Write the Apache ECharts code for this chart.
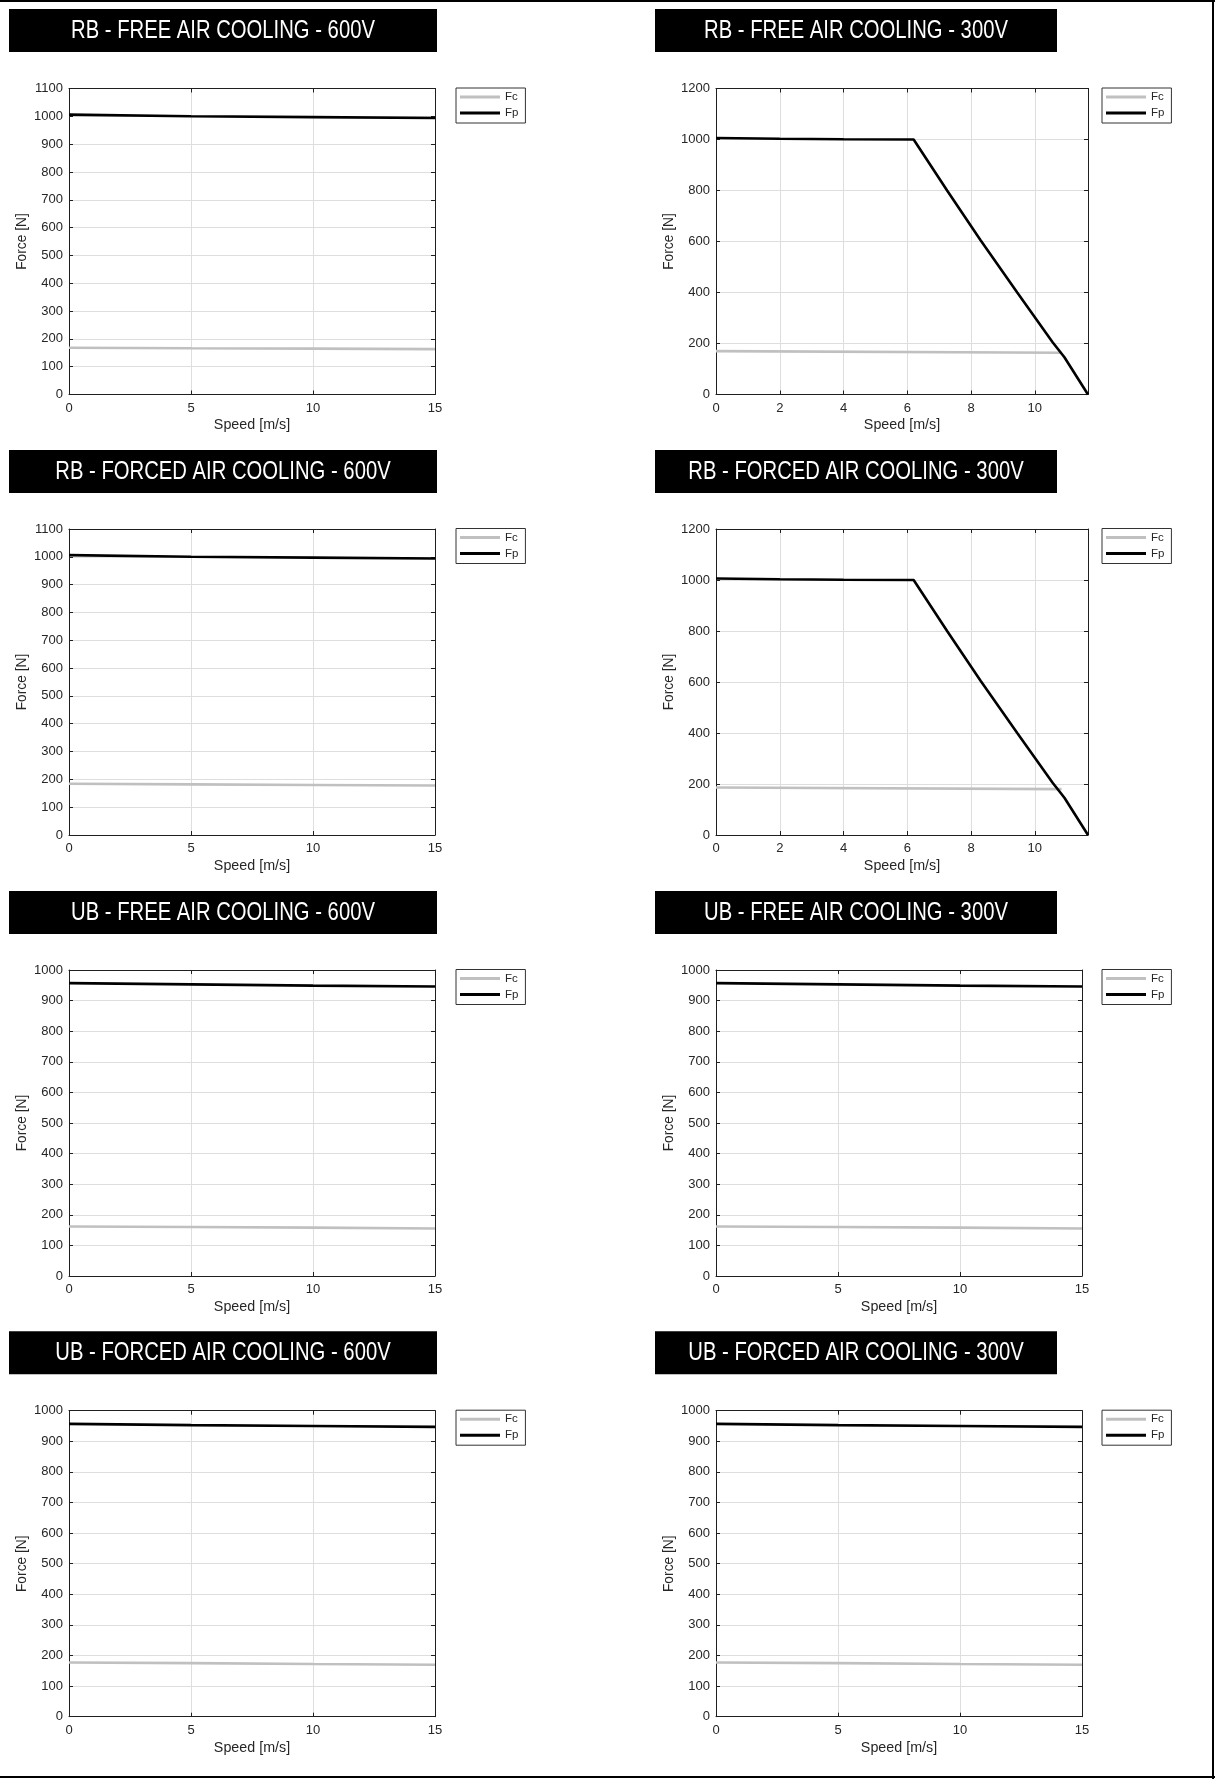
<!DOCTYPE html>
<html><head><meta charset="utf-8">
<script src="https://cdn.jsdelivr.net/npm/echarts@6/dist/echarts.min.js"></script>
<style>html,body{margin:0;padding:0;background:#fff}#c{width:1215px;height:1779px}</style>
</head><body><div id="c"></div>
<script>
// ---- data ----
const titles = [
  'RB - FREE AIR COOLING - 600V', 'RB - FREE AIR COOLING - 300V',
  'RB - FORCED AIR COOLING - 600V', 'RB - FORCED AIR COOLING - 300V',
  'UB - FREE AIR COOLING - 600V', 'UB - FREE AIR COOLING - 300V',
  'UB - FORCED AIR COOLING - 600V', 'UB - FORCED AIR COOLING - 300V'
];
const seriesNames = ['Fc', 'Fp'];
const xAxisName = 'Speed [m/s]';
const yAxisName = 'Force [N]';

const speed15 = [0, 5, 10, 15];
const rbFree600Fp = [1006, 1000, 997, 994];
const rbFree600Fc = [168, 166, 165, 163];
const rbForced600Fp = [1006, 1000, 997, 994];
const rbForced600Fc = [184, 182, 180, 178];

const speed300Fp = [0, 2, 4, 6.2, 7.25, 8.3, 9.45, 10.56, 10.93, 11.67];
const rbFree300Fp = [1006, 1003, 1001, 1000, 800, 605, 400, 205, 146, 0];
const speed300Fc = [0, 10.84];
const rbFree300Fc = [170, 164];
const rbForced300Fp = [1006, 1003, 1001, 1000, 800, 605, 400, 205, 146, 0];
const rbForced300Fc = [186, 180];

const ubFree600Fp = [957, 953, 949, 946];
const ubFree600Fc = [162, 160, 158, 155];
const ubFree300Fp = [957, 953, 949, 946];
const ubFree300Fc = [162, 160, 158, 155];
const ubForced600Fp = [957, 953, 950, 947];
const ubForced600Fc = [177, 175, 172, 170];
const ubForced300Fp = [957, 953, 950, 947];
const ubForced300Fc = [177, 175, 172, 170];

// axis ranges
const xMax = [15, 11.67, 15, 11.67, 15, 15, 15, 15];
const xInterval = [5, 2, 5, 2, 5, 5, 5, 5];
const yMax = [1100, 1200, 1100, 1200, 1000, 1000, 1000, 1000];
const yInterval = [100, 200, 100, 200, 100, 100, 100, 100];

const panelData = [
  [speed15, rbFree600Fc, speed15, rbFree600Fp],
  [speed300Fc, rbFree300Fc, speed300Fp, rbFree300Fp],
  [speed15, rbForced600Fc, speed15, rbForced600Fp],
  [speed300Fc, rbForced300Fc, speed300Fp, rbForced300Fp],
  [speed15, ubFree600Fc, speed15, ubFree600Fp],
  [speed15, ubFree300Fc, speed15, ubFree300Fp],
  [speed15, ubForced600Fc, speed15, ubForced600Fp],
  [speed15, ubForced300Fc, speed15, ubForced300Fp]
];

// ---- layout ----
const FONT = 'Liberation Sans, Arial, Helvetica, sans-serif';
const rowTop = [88.5, 529, 970, 1410.7];
const gridH = 306;
const colLeft = [69, 716];
const gridW = [366, 372, 366, 372, 366, 366, 366, 366];
const legendLeft = [456, 1102];
const bannerTop = [9, 450, 891, 1331.3];
const bannerLeft = [9, 655];
const bannerW = [428, 402];
const bannerH = 43;
const AX = '#1f1f1f';
const TXT = '#262626';

const grids = [], xAxes = [], yAxes = [], series = [], legends = [], graphics = [];

function zip(a, b) { return a.map((v, i) => [v, b[i]]); }
const plain = v => String(v);

for (let i = 0; i < 8; i++) {
  const row = Math.floor(i / 2), col = i % 2;
  grids.push({ left: colLeft[col], top: rowTop[row], width: gridW[i], height: gridH });
  const tick = { show: true, inside: true, length: 4, lineStyle: { color: AX } };
  const line = { show: true, onZero: false, lineStyle: { color: AX, width: 1 } };
  xAxes.push({
    type: 'value', gridIndex: i, position: 'bottom', min: 0, max: xMax[i], interval: xInterval[i],
    axisLine: line, axisTick: tick,
    axisLabel: { margin: 7, fontSize: 13, color: TXT, fontFamily: FONT, formatter: plain,
      showMaxLabel: xMax[i] % xInterval[i] === 0 },
    splitLine: { show: true, lineStyle: { color: '#dedede', width: 1 } },
    name: xAxisName, nameLocation: 'middle', nameGap: 24,
    nameTextStyle: { fontSize: 14.3, color: TXT, fontFamily: FONT }
  });
  xAxes.push({
    type: 'value', gridIndex: i, position: 'top', min: 0, max: xMax[i], interval: xInterval[i],
    axisLine: line, axisTick: tick, axisLabel: { show: false }, splitLine: { show: false }
  });
  yAxes.push({
    type: 'value', gridIndex: i, position: 'left', min: 0, max: yMax[i], interval: yInterval[i],
    axisLine: line, axisTick: tick,
    axisLabel: { margin: 6, fontSize: 13, color: TXT, fontFamily: FONT, formatter: plain },
    splitLine: { show: true, lineStyle: { color: '#dedede', width: 1 } },
    name: yAxisName, nameLocation: 'middle', nameGap: 40,
    nameTextStyle: { fontSize: 13.8, color: TXT, fontFamily: FONT }
  });
  yAxes.push({
    type: 'value', gridIndex: i, position: 'right', min: 0, max: yMax[i], interval: yInterval[i],
    axisLine: line, axisTick: tick, axisLabel: { show: false }, splitLine: { show: false }
  });
  const d = panelData[i];
  series.push({
    type: 'line', name: seriesNames[0], xAxisIndex: 2 * i, yAxisIndex: 2 * i,
    data: zip(d[0], d[1]), symbol: 'none', color: '#c0c0c0',
    lineStyle: { color: '#c0c0c0', width: 2.6 }, z: 3
  });
  series.push({
    type: 'line', name: seriesNames[1], xAxisIndex: 2 * i, yAxisIndex: 2 * i,
    data: zip(d[2], d[3]), symbol: 'none', color: '#000000',
    lineStyle: { color: '#000000', width: 2.6 }, z: 4
  });
  legends.push({
    left: legendLeft[col], top: rowTop[row] - 0.5, orient: 'vertical',
    data: seriesNames.slice(), icon: 'rect', itemWidth: 40, itemHeight: 3, itemGap: 4,
    itemTextGap: 3, padding: [3, 7, 4, 4], borderColor: '#333', borderWidth: 1,
    selectedMode: false,
    textStyle: { fontSize: 11.5, color: TXT, fontFamily: FONT }
  });
  // banner
  graphics.push({
    type: 'rect', shape: { x: bannerLeft[col], y: bannerTop[row], width: bannerW[col], height: bannerH },
    style: { fill: '#000' }, silent: true
  });
  graphics.push({
    type: 'text', x: bannerLeft[col] + bannerW[col] / 2, y: bannerTop[row] + bannerH / 2 + 0.5,
    scaleX: 0.81, silent: true,
    style: { text: titles[i], fill: '#fff', font: '25px "Liberation Sans", Arial, sans-serif',
      textAlign: 'center', textVerticalAlign: 'middle', align: 'center', verticalAlign: 'middle' }
  });
}
// page frame (top, right, bottom)
graphics.push({ type: 'line', shape: { x1: 0, y1: 1, x2: 1215, y2: 1 }, style: { stroke: '#000', lineWidth: 2 }, silent: true });
graphics.push({ type: 'line', shape: { x1: 1213, y1: 0, x2: 1213, y2: 1779 }, style: { stroke: '#000', lineWidth: 2 }, silent: true });
graphics.push({ type: 'line', shape: { x1: 0, y1: 1777, x2: 1215, y2: 1777 }, style: { stroke: '#000', lineWidth: 2 }, silent: true });

const chart = echarts.init(document.getElementById('c'), null, { renderer: 'canvas' });
chart.setOption({
  animation: false,
  backgroundColor: '#fff',
  textStyle: { fontFamily: FONT },
  grid: grids, xAxis: xAxes, yAxis: yAxes, series: series, legend: legends,
  graphic: graphics
});
</script></body></html>
